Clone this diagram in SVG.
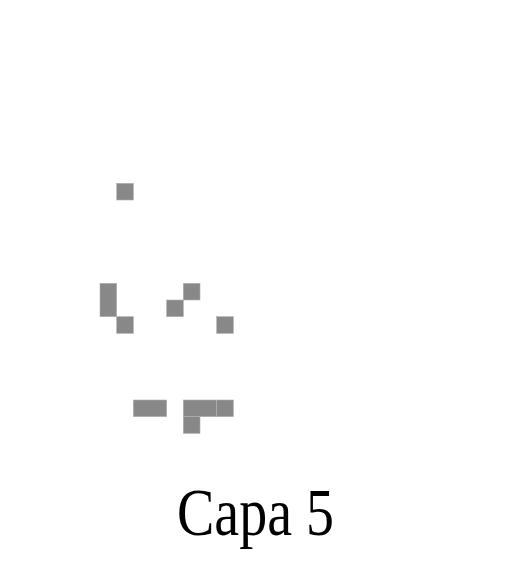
<svg xmlns="http://www.w3.org/2000/svg" width="517" height="579" viewBox="0 0 517 579">
<style>
.c{fill:#888888;stroke:#b0b0b0;stroke-width:0.6}
.t{font-family:"Liberation Serif","Times New Roman",serif;font-size:66.67px;fill:#000}
</style>
<rect width="517" height="579" fill="#fff"/>
<g id="cells">
<rect class="c" x="116.67" y="183.33" width="16.67" height="16.67"/>
<rect class="c" x="100" y="283.33" width="16.67" height="33.33"/>
<rect class="c" x="116.67" y="316.67" width="16.67" height="16.67"/>
<rect class="c" x="183.33" y="283.33" width="16.67" height="16.67"/>
<rect class="c" x="166.67" y="300" width="16.67" height="16.67"/>
<rect class="c" x="216.67" y="316.67" width="16.67" height="16.67"/>
<rect class="c" x="133.33" y="400" width="33.33" height="16.67"/>
<rect class="c" x="183.33" y="400" width="33.33" height="16.67"/>
<rect class="c" x="216.67" y="400" width="16.67" height="16.67"/>
<rect class="c" x="183.33" y="416.67" width="16.67" height="16.67"/>
</g>
<g id="label">
<text class="t" x="177" y="535" textLength="157" lengthAdjust="spacingAndGlyphs">Capa 5</text>
</g>
</svg>
